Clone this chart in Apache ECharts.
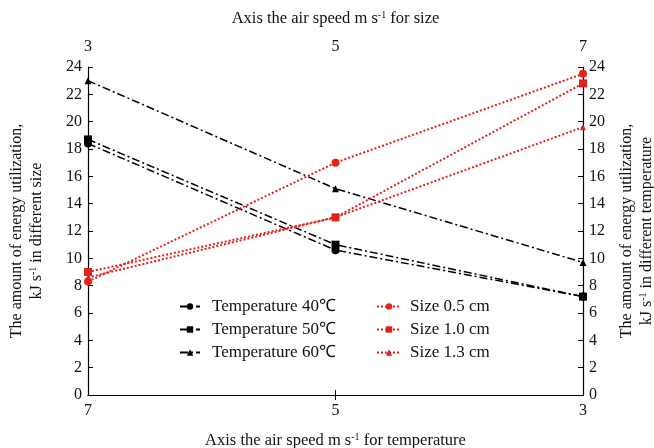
<!DOCTYPE html>
<html><head><meta charset="utf-8">
<script src="https://cdn.jsdelivr.net/npm/echarts@6/dist/echarts.min.js"></script>
<style>html,body{margin:0;padding:0;background:#fff}#c{width:654px;height:448px}</style>
</head><body><div id="c"></div>
<script>
var tempSpeeds = ['7', '5', '3'];
var sizeSpeeds = ['3', '5', '7'];
var temp40 = [18.4, 10.6, 7.2];
var temp50 = [18.7, 11.0, 7.2];
var temp60 = [23.0, 15.1, 9.7];
var size05 = [8.3, 17.0, 23.5];
var size10 = [9.0, 13.0, 22.8];
var size13 = [8.6, 13.0, 19.6];

var FONT = 'Liberation Serif';
var RED = '#e3211c';
var sup = {sup: {fontSize: 10, fontFamily: FONT, color: '#111', padding: [0, 0, 8, 0]}};

function blackSeries(name, data, sym, size) {
  return {name: name, type: 'line', xAxisIndex: 0, yAxisIndex: 0, data: data,
    symbol: sym, symbolSize: size, showSymbol: true,
    itemStyle: {color: '#000'},
    lineStyle: {color: '#000', width: 1.5, type: [8, 3, 2, 3]}};
}
function redSeries(name, data, sym, size) {
  return {name: name, type: 'line', xAxisIndex: 1, yAxisIndex: 1, data: data,
    symbol: sym, symbolSize: size, showSymbol: true,
    itemStyle: {color: RED},
    lineStyle: {color: RED, width: 2, type: [2, 2]}};
}
var yCommon = {type: 'value', min: 0, max: 24, interval: 2,
  axisLine: {show: true, lineStyle: {color: '#000', width: 1.2}},
  axisTick: {show: true, inside: true, length: 5, lineStyle: {color: '#000'}},
  splitLine: {show: false},
  axisLabel: {fontSize: 16, fontFamily: FONT, color: '#111', margin: 6},
  nameLocation: 'middle', nameRotate: 90,
  nameTextStyle: {fontSize: 16, fontFamily: FONT, color: '#111', lineHeight: 20, rich: sup}};
var xCommon = {type: 'category', boundaryGap: false,
  axisLine: {show: true, lineStyle: {color: '#000', width: 1.2}},
  axisTick: {show: true, inside: true, length: 5, alignWithLabel: true, lineStyle: {color: '#000'},
    interval: function (i) { return i === 1; }},
  splitLine: {show: false},
  nameLocation: 'middle',
  nameTextStyle: {fontSize: 16.5, fontFamily: FONT, color: '#111', rich: sup}};

var option = {
  backgroundColor: '#fff',
  animation: false,
  grid: {left: 88, right: 71, top: 67, bottom: 53, containLabel: false, outerBoundsMode: 'none'},
  xAxis: [
    Object.assign({}, xCommon, {position: 'bottom', data: tempSpeeds,
      name: 'Axis the air speed m s{sup|-1} for temperature', nameGap: 37,
      axisLabel: {fontSize: 16, fontFamily: FONT, color: '#111', margin: 8}}),
    Object.assign({}, xCommon, {position: 'top', data: sizeSpeeds,
      name: 'Axis the air speed m s{sup|-1} for size', nameGap: 39,
      axisLabel: {fontSize: 16, fontFamily: FONT, color: '#111', margin: 12}})
  ],
  yAxis: [
    Object.assign({}, yCommon, {position: 'left', nameGap: 41,
      name: 'The amount of energy utilization,\nkJ s{sup|-1} in different size'}),
    Object.assign({}, yCommon, {position: 'right', nameGap: 34,
      name: 'The amount of energy utilization,\nkJ s{sup|-1} in different temperature'})
  ],
  legend: [
    {orient: 'vertical', left: 174, top: 293, itemWidth: 20, itemHeight: 8, itemGap: 6,
      textStyle: {fontSize: 17, fontFamily: FONT, color: '#111', padding: [0, 0, 0, 7]},
      data: ['Temperature 40℃', 'Temperature 50℃', 'Temperature 60℃']},
    {orient: 'vertical', left: 371, top: 293, itemWidth: 24, itemHeight: 8, itemGap: 6,
      textStyle: {fontSize: 17, fontFamily: FONT, color: '#111', padding: [0, 0, 0, 4]},
      data: ['Size 0.5 cm', 'Size 1.0 cm', 'Size 1.3 cm']}
  ],
  series: [
    blackSeries('Temperature 40℃', temp40, 'circle', 8),
    blackSeries('Temperature 50℃', temp50, 'rect', 8),
    blackSeries('Temperature 60℃', temp60, 'triangle', 7),
    redSeries('Size 0.5 cm', size05, 'circle', 8),
    redSeries('Size 1.0 cm', size10, 'rect', 8),
    redSeries('Size 1.3 cm', size13, 'triangle', 6)
  ]
};
echarts.init(document.getElementById('c'), null, {renderer: 'canvas'}).setOption(option);
</script></body></html>
